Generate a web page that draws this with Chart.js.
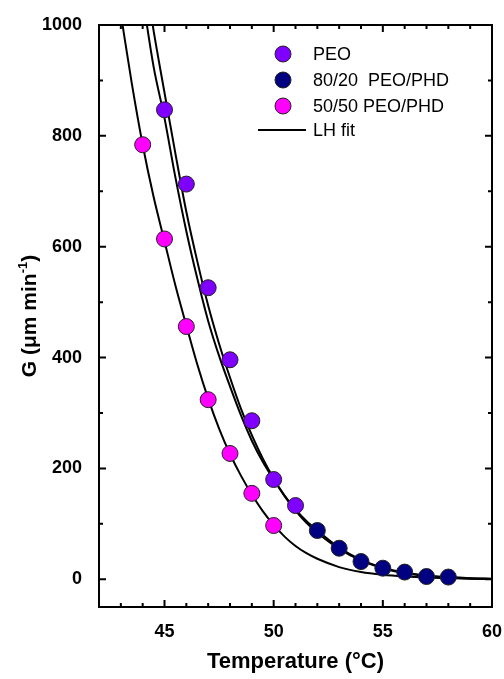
<!DOCTYPE html>
<html>
<head>
<meta charset="utf-8">
<script src="https://cdn.jsdelivr.net/npm/chart.js@4"></script>
<style>
  body { margin: 0; background: #fff; }
  #wrap { width: 504px; height: 679px; }
</style>
</head>
<body>
<div id="wrap"><canvas id="growthChart" width="504" height="679"></canvas></div>
<script>
// 测量数据 (温度 °C, 生长速率 G μm/min)
const peoTemp = [45, 46, 47, 48, 49, 50, 51];
const peoG = [847, 713, 526, 396, 286, 180, 133];

const temp8020 = [52, 53, 54, 55, 56, 57, 58];
const g8020 = [88, 56, 32, 20, 13, 5, 4];

const temp5050 = [44, 45, 46, 47, 48, 49, 50];
const g5050 = [784, 614, 456, 324, 227, 155, 97];

// LH 拟合曲线
const fitPeoTemp = [44, 44.5, 45, 45.5, 46, 46.5, 47, 47.5, 48, 48.5, 49, 49.5, 50, 50.5, 51, 51.5, 52, 53, 54, 55, 56, 57, 58, 59, 60];
const fitPeoG = [1050, 925, 832, 725, 628, 543, 466, 403, 348, 296, 250, 212, 180, 150, 124, 102, 84, 55, 34, 20, 11, 6, 3, 1.5, 0.7];

const fit8020Temp = [44.3, 44.5, 45, 45.5, 46, 46.5, 47, 47.5, 48, 48.5, 49, 49.5, 50, 50.5, 51, 51.5, 52, 53, 54, 55, 56, 57, 58, 59, 60];
const fit8020G = [1040, 990, 878, 768, 663, 574, 494, 425, 364, 308, 260, 218, 182, 151, 126, 105, 88, 57, 35, 21, 12, 7, 4, 2, 1];

const fit5050Temp = [43, 43.5, 44, 44.5, 45, 45.5, 46, 46.5, 47, 47.5, 48, 48.5, 49, 49.5, 50, 50.5, 51, 51.5, 52, 53, 54, 55, 56, 57, 58, 59, 60];
const fit5050G = [1020, 895, 784, 690, 610, 530, 458, 388, 326, 272, 226, 187, 153, 123, 98, 77, 60, 47, 37, 22, 13, 8, 5, 3, 2, 1, 0.5];

// 坐标轴刻度
const xMajorTicks = [45, 50, 55, 60];
const xMinorTicks = [43, 44, 46, 47, 48, 49, 51, 52, 53, 54, 56, 57, 58, 59];
const yMajorTicks = [0, 200, 400, 600, 800, 1000];
const yMinorTicks = [100, 300, 500, 700, 900];

const legendLabels = ['PEO', '80/20  PEO/PHD', '50/50 PEO/PHD', 'LH fit'];

function toPoints(xs, ys) {
    return xs.map((x, i) => ({ x: x, y: ys[i] }));
}

function fitDataset(xs, ys) {
    return {
        data: toPoints(xs, ys),
        showLine: true,
        borderColor: '#000',
        borderWidth: 2,
        pointRadius: 0,
        cubicInterpolationMode: 'monotone',
        order: 2
    };
}

function markerDataset(xs, ys, color) {
    return {
        data: toPoints(xs, ys),
        showLine: false,
        backgroundColor: color,
        borderColor: '#222',
        borderWidth: 1,
        pointRadius: 8,
        order: 1
    };
}

const markerColors = ['#8000ff', '#000080', '#ff00ff'];

// 边框、刻度、标题和图例
const framePlugin = {
    id: 'frame',
    afterDraw(chart) {
        const ctx = chart.ctx;
        const area = chart.chartArea;
        const xs = chart.scales.x;
        const ys = chart.scales.y;

        ctx.save();
        ctx.strokeStyle = '#000';
        ctx.lineWidth = 2;
        ctx.strokeRect(area.left, area.top, area.right - area.left, area.bottom - area.top);

        ctx.lineWidth = 2;
        const drawX = (vals, len) => {
            vals.forEach(v => {
                const px = xs.getPixelForValue(v);
                ctx.beginPath();
                ctx.moveTo(px, area.bottom);
                ctx.lineTo(px, area.bottom - len);
                ctx.moveTo(px, area.top);
                ctx.lineTo(px, area.top + len);
                ctx.stroke();
            });
        };
        const drawY = (vals, len) => {
            vals.forEach(v => {
                const py = ys.getPixelForValue(v);
                ctx.beginPath();
                ctx.moveTo(area.left, py);
                ctx.lineTo(area.left + len, py);
                ctx.moveTo(area.right, py);
                ctx.lineTo(area.right - len, py);
                ctx.stroke();
            });
        };
        drawX(xMajorTicks, 7);
        drawX(xMinorTicks, 4);
        drawY(yMajorTicks, 7);
        drawY(yMinorTicks, 4);

        // x 轴标题
        ctx.fillStyle = '#000';
        ctx.font = 'bold 22px "Liberation Sans", Arial, sans-serif';
        ctx.textAlign = 'center';
        ctx.textBaseline = 'middle';
        ctx.fillText('Temperature (°C)', (area.left + area.right) / 2, 662);

        // y 轴标题 (带上标)
        ctx.translate(30, (area.top + area.bottom) / 2);
        ctx.rotate(-Math.PI / 2);
        const mainFont = 'bold 21px "Liberation Sans", Arial, sans-serif';
        const supFont = 'bold 13px "Liberation Sans", Arial, sans-serif';
        const part1 = 'G (μm min';
        const part2 = '-1';
        const part3 = ')';
        ctx.font = mainFont;
        const w1 = ctx.measureText(part1).width;
        const w3 = ctx.measureText(part3).width;
        ctx.font = supFont;
        const w2 = ctx.measureText(part2).width;
        let x0 = -(w1 + w2 + w3) / 2;
        ctx.textAlign = 'left';
        ctx.font = mainFont;
        ctx.fillText(part1, x0, 0);
        ctx.font = supFont;
        ctx.fillText(part2, x0 + w1, -7);
        ctx.font = mainFont;
        ctx.fillText(part3, x0 + w1 + w2, 0);
        ctx.restore();

        // 图例
        ctx.save();
        ctx.font = '18px "Liberation Sans", Arial, sans-serif';
        ctx.textAlign = 'left';
        ctx.textBaseline = 'middle';
        ctx.fillStyle = '#000';
        const rowY = [54, 80, 106, 130];
        for (let i = 0; i < 3; i++) {
            ctx.beginPath();
            ctx.arc(283, rowY[i], 8, 0, Math.PI * 2);
            ctx.fillStyle = markerColors[i];
            ctx.fill();
            ctx.lineWidth = 1;
            ctx.strokeStyle = '#222';
            ctx.stroke();
            ctx.fillStyle = '#000';
            ctx.fillText(legendLabels[i], 313, rowY[i] + 1);
        }
        ctx.beginPath();
        ctx.lineWidth = 2;
        ctx.strokeStyle = '#000';
        ctx.moveTo(258, rowY[3]);
        ctx.lineTo(306, rowY[3]);
        ctx.stroke();
        ctx.fillText(legendLabels[3], 313, rowY[3] + 1);
        ctx.restore();
    }
};

const ctx = document.getElementById('growthChart').getContext('2d');
new Chart(ctx, {
    type: 'scatter',
    data: {
        datasets: [
            fitDataset(fitPeoTemp, fitPeoG),
            fitDataset(fit8020Temp, fit8020G),
            fitDataset(fit5050Temp, fit5050G),
            markerDataset(peoTemp, peoG, markerColors[0]),
            markerDataset(temp8020, g8020, markerColors[1]),
            markerDataset(temp5050, g5050, markerColors[2])
        ]
    },
    options: {
        responsive: false,
        animation: false,
        layout: {
            padding: { top: 25, right: 12, left: 0, bottom: 0 }
        },
        plugins: {
            legend: { display: false },
            tooltip: { enabled: false }
        },
        scales: {
            x: {
                type: 'linear',
                min: 42,
                max: 60,
                afterBuildTicks: scale => {
                    scale.ticks = xMajorTicks.map(v => ({ value: v }));
                },
                afterFit: scale => {
                    scale.height = 72;
                    scale.paddingLeft = 0;
                    scale.paddingRight = 0;
                },
                grid: { display: false },
                border: { display: false },
                ticks: {
                    color: '#000',
                    padding: 6,
                    callback: v => String(v),
                    font: { family: '"Liberation Sans", Arial, sans-serif', size: 18, weight: 'bold' }
                }
            },
            y: {
                type: 'linear',
                min: -50,
                max: 1000,
                afterBuildTicks: scale => {
                    scale.ticks = yMajorTicks.map(v => ({ value: v }));
                },
                afterFit: scale => {
                    scale.width = 99;
                },
                grid: { display: false },
                border: { display: false },
                ticks: {
                    color: '#000',
                    padding: 9,
                    callback: v => String(v),
                    font: { family: '"Liberation Sans", Arial, sans-serif', size: 18, weight: 'bold' }
                }
            }
        }
    },
    plugins: [framePlugin]
});
</script>
</body>
</html>
